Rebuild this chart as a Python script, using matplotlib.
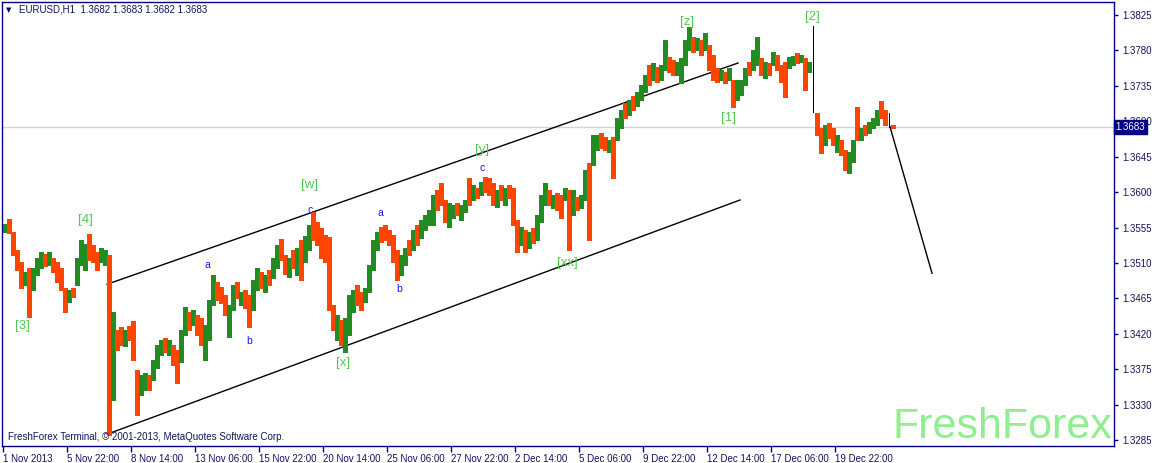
import matplotlib
matplotlib.use('Agg')
import matplotlib.pyplot as plt
import matplotlib.transforms as mtransforms

plt.rcParams['font.family'] = ['Liberation Sans', 'DejaVu Sans']

# EURUSD H1, 1 Nov - 23 Dec 2013 in groups of 4 hours
highs = [
    1.3560, 1.3566, 1.3549, 1.3527, 1.3511, 1.3499, 1.3504, 1.3504, 1.3516, 1.3524,
    1.3521, 1.3524, 1.3516, 1.3511, 1.3504, 1.3478, 1.3476, 1.3478, 1.3516, 1.3539,
    1.3534, 1.3547, 1.3533, 1.3524, 1.3529, 1.3527, 1.3520, 1.3448, 1.3425, 1.3429,
    1.3425, 1.3430, 1.3436, 1.3374, 1.3368, 1.3370, 1.3368, 1.3387, 1.3406, 1.3412,
    1.3415, 1.3412, 1.3406, 1.3400, 1.3425, 1.3454, 1.3448, 1.3450, 1.3444, 1.3440,
    1.3431, 1.3463, 1.3495, 1.3486, 1.3480, 1.3469, 1.3457, 1.3482, 1.3486, 1.3473,
    1.3476, 1.3469, 1.3488, 1.3504, 1.3499, 1.3495, 1.3501, 1.3516, 1.3533, 1.3541,
    1.3520, 1.3516, 1.3527, 1.3529, 1.3539, 1.3544, 1.3558, 1.3575, 1.3562, 1.3554,
    1.3546, 1.3543, 1.3457, 1.3444, 1.3438, 1.3440, 1.3469, 1.3476, 1.3482, 1.3473,
    1.3478, 1.3507, 1.3539, 1.3549, 1.3556, 1.3558, 1.3552, 1.3546, 1.3527, 1.3520,
    1.3529, 1.3539, 1.3552, 1.3558, 1.3565, 1.3571, 1.3577, 1.3596, 1.3603, 1.3612,
    1.3590, 1.3586, 1.3584, 1.3586, 1.3584, 1.3590, 1.3618, 1.3609, 1.3605, 1.3613,
    1.3619, 1.3618, 1.3612, 1.3603, 1.3609, 1.3605, 1.3609, 1.3605, 1.3565, 1.3556,
    1.3552, 1.3549, 1.3554, 1.3571, 1.3597, 1.3612, 1.3603, 1.3597, 1.3599, 1.3597,
    1.3605, 1.3603, 1.3603, 1.3594, 1.3597, 1.3628, 1.3637, 1.3673, 1.3673, 1.3675,
    1.3670, 1.3666, 1.3670, 1.3694, 1.3704, 1.3713, 1.3717, 1.3722, 1.3727, 1.3736,
    1.3749, 1.3762, 1.3764, 1.3759, 1.3762, 1.3793, 1.3772, 1.3768, 1.3765, 1.3770,
    1.3793, 1.3810, 1.3797, 1.3796, 1.3793, 1.3802, 1.3787, 1.3774, 1.3758, 1.3755,
    1.3753, 1.3758, 1.3742, 1.3742, 1.3742, 1.3758, 1.3765, 1.3781, 1.3797, 1.3770,
    1.3765, 1.3764, 1.3778, 1.3774, 1.3762, 1.3765, 1.3772, 1.3773, 1.3777, 1.3774,
    1.3770, 1.3765, 1.3811, 1.3700, 1.3681, 1.3685, 1.3688, 1.3681, 1.3673, 1.3666,
    1.3654, 1.3651, 1.3666, 1.3708, 1.3681, 1.3685, 1.3689, 1.3694, 1.3704, 1.3716,
    1.3704, 1.3700, 1.3685,
]
lows = [
    1.3549, 1.3548, 1.3520, 1.3501, 1.3478, 1.3482, 1.3442, 1.3476, 1.3495, 1.3504,
    1.3506, 1.3507, 1.3499, 1.3486, 1.3476, 1.3448, 1.3461, 1.3467, 1.3482, 1.3507,
    1.3501, 1.3514, 1.3511, 1.3501, 1.3511, 1.3507, 1.3292, 1.3336, 1.3400, 1.3406,
    1.3405, 1.3412, 1.3387, 1.3317, 1.3343, 1.3349, 1.3349, 1.3361, 1.3377, 1.3393,
    1.3397, 1.3393, 1.3381, 1.3358, 1.3384, 1.3419, 1.3425, 1.3431, 1.3419, 1.3406,
    1.3387, 1.3412, 1.3457, 1.3463, 1.3459, 1.3444, 1.3416, 1.3450, 1.3466, 1.3457,
    1.3453, 1.3429, 1.3450, 1.3476, 1.3478, 1.3473, 1.3482, 1.3491, 1.3504, 1.3514,
    1.3496, 1.3492, 1.3504, 1.3495, 1.3488, 1.3511, 1.3527, 1.3539, 1.3533, 1.3516,
    1.3511, 1.3450, 1.3425, 1.3412, 1.3406, 1.3397, 1.3419, 1.3448, 1.3457, 1.3450,
    1.3461, 1.3473, 1.3501, 1.3527, 1.3537, 1.3539, 1.3533, 1.3511, 1.3488, 1.3495,
    1.3507, 1.3520, 1.3527, 1.3533, 1.3542, 1.3552, 1.3558, 1.3558, 1.3577, 1.3584,
    1.3562, 1.3556, 1.3567, 1.3571, 1.3565, 1.3575, 1.3584, 1.3590, 1.3593, 1.3597,
    1.3600, 1.3597, 1.3584, 1.3581, 1.3590, 1.3584, 1.3593, 1.3558, 1.3524, 1.3533,
    1.3524, 1.3529, 1.3535, 1.3539, 1.3562, 1.3584, 1.3584, 1.3580, 1.3577, 1.3567,
    1.3590, 1.3527, 1.3571, 1.3577, 1.3580, 1.3590, 1.3539, 1.3635, 1.3654, 1.3656,
    1.3654, 1.3651, 1.3618, 1.3666, 1.3681, 1.3694, 1.3698, 1.3704, 1.3709, 1.3717,
    1.3727, 1.3736, 1.3742, 1.3740, 1.3742, 1.3755, 1.3753, 1.3749, 1.3749, 1.3739,
    1.3762, 1.3781, 1.3778, 1.3781, 1.3774, 1.3781, 1.3755, 1.3742, 1.3740, 1.3742,
    1.3739, 1.3742, 1.3708, 1.3717, 1.3723, 1.3736, 1.3749, 1.3755, 1.3762, 1.3749,
    1.3745, 1.3749, 1.3762, 1.3755, 1.3740, 1.3721, 1.3758, 1.3762, 1.3764, 1.3765,
    1.3730, 1.3753, 1.3702, 1.3673, 1.3650, 1.3660, 1.3669, 1.3660, 1.3651, 1.3647,
    1.3628, 1.3624, 1.3638, 1.3666, 1.3666, 1.3673, 1.3675, 1.3681, 1.3685, 1.3694,
    1.3685, 1.3683, 1.3681,
]
# u = up bar, d = down bar, n = unchanged
dirs = ("udddduduuu" "dudddduduu" "uddduududd" "uddduuduuu" "dudduududd"
        "uuuddduudu" "dduududuud" "dududuuddd" "ddduduuudd" "uuuudddddu"
        "ududuuuudd" "duuduududu" "dddududddu" "duduuududd" "ududuuduud"
        "duduududuu" "ududuudduu" "uudududddu" "duduuuduud" "ududdduudu"
        "dundduddud" "duududuuud" "dnd")
assert len(highs) == len(lows) == len(dirs)

last_price = 1.3683

date_hours = [0, 64, 128, 192, 256, 320, 384, 448, 512, 576, 640, 704, 768, 832]
date_labels = ['1 Nov 2013', '5 Nov 22:00', '8 Nov 14:00', '13 Nov 06:00', '15 Nov 22:00',
               '20 Nov 14:00', '25 Nov 06:00', '27 Nov 22:00', '2 Dec 14:00', '5 Dec 06:00',
               '9 Dec 22:00', '12 Dec 14:00', '17 Dec 06:00', '19 Dec 22:00']
price_ticks = [1.3825, 1.3780, 1.3735, 1.3690, 1.3645, 1.3600, 1.3555,
               1.3510, 1.3465, 1.3420, 1.3375, 1.3330, 1.3285]

# trend channel and forecast (hour, price)
upper_x, upper_y = [104, 735], [1.3483, 1.3764]
lower_x, lower_y = [105, 737], [1.3293, 1.3590]
fcast_x, fcast_y = [887, 929], [1.3683, 1.3497]

wave_text = ['[3]', '[4]', '[w]', '[x]', '[y]', '[xx]', '[z]', '[1]', '[2]']
wave_x = [19, 82, 307, 340, 479, 564, 684, 725, 809]
wave_y = [1.3430, 1.3565, 1.3609, 1.3383, 1.3654, 1.3510, 1.3816, 1.3694, 1.3822]

sub_text = ['a', 'b', 'c', 'a', 'b', 'c']
sub_x = [204, 246, 307, 377, 396, 479]
sub_y = [1.3508, 1.3411, 1.3577, 1.3574, 1.3477, 1.3631]

W, H = 1154, 463
navy = '#000080'
txt = '#14145a'
fig = plt.figure(figsize=(W / 100, H / 100), dpi=100)
ax = fig.add_axes([2 / W, (H - 446) / H, 1112 / W, 444 / H])
ax.set_xlim(-1, 1111)
ax.set_ylim(1.32776, 1.38415)

colmap = {'u': '#228b22', 'd': '#ff4500', 'n': 'black'}
xs = [4 * k + 1.5 for k in range(len(highs))]
# unchanged bars are drawn as thin black lines like in the terminal
widths = [0.72 if c == 'n' else 2.2 for c in dirs]
ax.vlines(xs, lows, highs, colors=[colmap[c] for c in dirs], linewidth=widths,
          antialiased=False, zorder=3)

ax.axhline(last_price, color='#d4d4d4', lw=1, zorder=1)
ax.plot(upper_x, upper_y, color='black', lw=1, zorder=2)
ax.plot(lower_x, lower_y, color='black', lw=1, zorder=2)
ax.plot(fcast_x, fcast_y, color='black', lw=1, zorder=2)

for s, x, y in zip(wave_text, wave_x, wave_y):
    ax.text(x, y, s, ha='center', va='center', color='#50c850', fontsize=9.5, zorder=4)
for s, x, y in zip(sub_text, sub_x, sub_y):
    ax.text(x, y, s, ha='center', va='center', color='#1414ff', fontsize=7.5, zorder=4)

for sp in ax.spines.values():
    sp.set_color(navy)
    sp.set_linewidth(1)

ax.yaxis.tick_right()
ax.set_yticks(price_ticks)
ax.set_yticklabels([f'{p:.4f}' for p in price_ticks])
ax.tick_params(axis='y', direction='out', length=3, width=1, color=navy,
               labelcolor=txt, labelsize=7, pad=3)
ax.set_xticks(date_hours)
ax.set_xticklabels(date_labels)
ax.tick_params(axis='x', direction='out', length=4, width=1, color=navy,
               labelcolor=txt, labelsize=7, pad=2)
for lbl in ax.get_xticklabels():
    lbl.set_ha('left')

trans = mtransforms.blended_transform_factory(ax.transAxes, ax.transData)
ax.text(1.0015, last_price, '1.3683', transform=trans, ha='left', va='center',
        color='white', fontsize=7, zorder=10, clip_on=False,
        bbox=dict(boxstyle='square,pad=0.2', fc=navy, ec=navy))

fig.text(6 / W, 1 - 10 / H, '\u25bc', ha='left', va='center', color=navy, fontsize=5,
         family=['DejaVu Sans'])
fig.text(19 / W, 1 - 10 / H, 'EURUSD,H1  1.3682 1.3683 1.3682 1.3683',
         ha='left', va='center', color=txt, fontsize=7)
fig.text(8 / W, 1 - 437 / H, 'FreshForex Terminal, \u00a9 2001-2013, MetaQuotes Software Corp.',
         ha='left', va='center', color=txt, fontsize=7)
fig.text(1112 / W, 1 - 438 / H, 'FreshForex', ha='right', va='baseline', color='#90ee90',
         fontsize=31)

fig.savefig('out.png', dpi=100)
